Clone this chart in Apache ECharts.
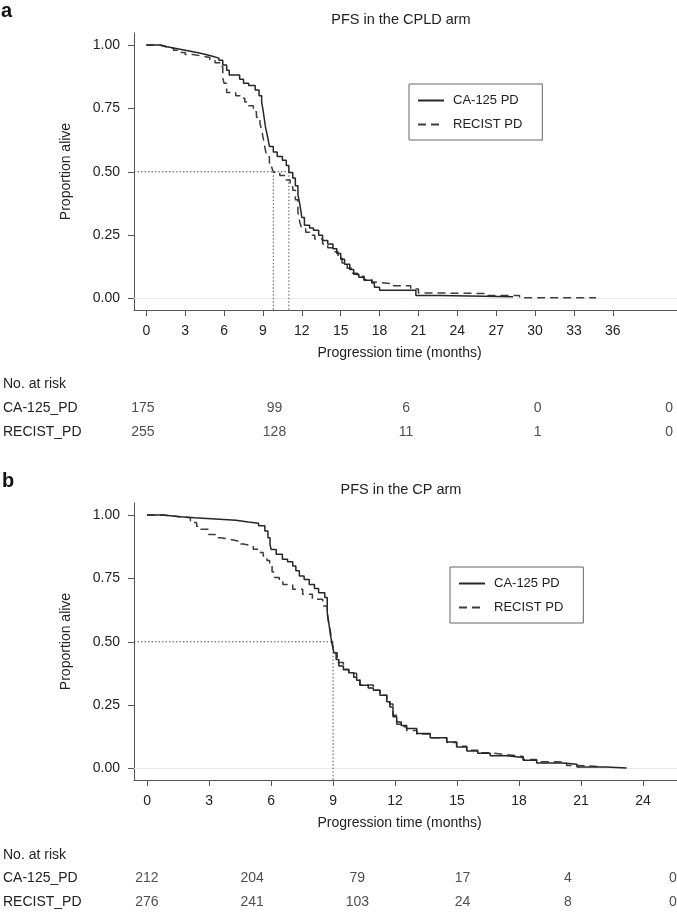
<!DOCTYPE html>
<html>
<head>
<meta charset="utf-8">
<script src="https://cdn.jsdelivr.net/npm/echarts@6.0.0/dist/echarts.min.js"></script>
<style>
  html, body { margin: 0; padding: 0; background: #fff; }
  #chart { width: 677px; height: 914px; }
</style>
</head>
<body>
<div id="chart"></div>
<script>
// Kaplan-Meier step points [months, proportion alive]
const cplaCa125 = [[0,1],[1.1,0.993],[1.6,0.987],[2.2,0.981],[2.8,0.975],[3.4,0.969],[4.0,0.962],[4.6,0.955],[5.1,0.948],[5.6,0.94],[5.9,0.921],[6.2,0.9],[6.4,0.881],[7.2,0.865],[7.5,0.849],[7.9,0.84],[8.4,0.822],[8.7,0.8],[8.9,0.775],[9.0,0.745],[9.1,0.71],[9.2,0.675],[9.35,0.64],[9.5,0.6],[9.8,0.578],[10.1,0.56],[10.5,0.545],[10.8,0.525],[11.0,0.497],[11.3,0.475],[11.5,0.445],[11.7,0.41],[11.85,0.37],[12.0,0.32],[12.2,0.289],[12.6,0.278],[12.9,0.269],[13.3,0.25],[13.6,0.229],[14.0,0.215],[14.4,0.196],[14.7,0.178],[15.0,0.155],[15.3,0.135],[15.7,0.115],[16.0,0.096],[16.4,0.084],[16.8,0.072],[17.4,0.061],[17.6,0.045],[18.0,0.033],[20.8,0.012],[22.6,0.007],[28.3,0.007]];
const cplaRecist = [[0,1],[1.0,0.993],[1.5,0.987],[2.1,0.979],[2.6,0.97],[3.0,0.962],[3.6,0.957],[4.2,0.95],[4.9,0.94],[5.3,0.93],[5.7,0.915],[5.9,0.87],[6.0,0.849],[6.2,0.812],[6.9,0.8],[7.3,0.79],[7.6,0.775],[7.9,0.76],[8.26,0.737],[8.5,0.715],[8.77,0.69],[8.9,0.665],[9.03,0.63],[9.15,0.595],[9.3,0.559],[9.5,0.535],[9.67,0.519],[9.8,0.498],[10.3,0.485],[10.8,0.467],[11.1,0.445],[11.3,0.427],[11.5,0.39],[11.7,0.34],[11.85,0.3],[12.0,0.275],[12.3,0.262],[12.6,0.25],[13.0,0.235],[13.6,0.215],[14.0,0.2],[14.4,0.185],[14.8,0.16],[15.1,0.14],[15.5,0.12],[15.9,0.1],[16.3,0.088],[16.8,0.075],[17.4,0.065],[17.6,0.059],[19.0,0.051],[20.4,0.038],[21.0,0.022],[22.3,0.02],[26.2,0.012],[28.8,0.003],[34.7,0.003]];
const cpCa125 = [[0,1],[0.75,0.993],[1.6,0.989],[2.3,0.983],[3.5,0.979],[4.3,0.972],[4.9,0.967],[5.4,0.957],[5.7,0.937],[5.85,0.91],[5.95,0.885],[6.0,0.864],[6.25,0.845],[6.55,0.825],[6.8,0.815],[7.05,0.799],[7.2,0.78],[7.37,0.759],[7.6,0.745],[7.85,0.726],[8.1,0.71],[8.3,0.693],[8.6,0.674],[8.72,0.615],[8.8,0.57],[8.88,0.523],[8.96,0.49],[9.04,0.457],[9.15,0.43],[9.28,0.404],[9.5,0.39],[9.76,0.378],[10.0,0.36],[10.14,0.348],[10.3,0.329],[10.7,0.318],[10.95,0.309],[11.27,0.289],[11.6,0.263],[11.75,0.243],[11.9,0.204],[12.08,0.184],[12.3,0.17],[12.56,0.158],[13.05,0.138],[13.7,0.122],[14.5,0.105],[14.98,0.085],[15.47,0.069],[16.0,0.06],[16.6,0.051],[17.4,0.044],[18.2,0.033],[18.85,0.022],[20.1,0.017],[20.8,0.006],[22.2,0.002],[23.2,0.002]];
const cpRecist = [[0,1],[0.75,0.993],[1.6,0.989],[2.1,0.97],[2.4,0.955],[2.58,0.944],[2.98,0.923],[3.3,0.91],[3.54,0.904],[4.02,0.897],[4.4,0.885],[4.66,0.878],[5.14,0.865],[5.4,0.852],[5.62,0.838],[5.8,0.82],[5.93,0.799],[6.05,0.775],[6.17,0.753],[6.4,0.738],[6.57,0.726],[7.05,0.707],[7.53,0.687],[8.0,0.668],[8.5,0.641],[8.72,0.608],[8.8,0.57],[8.88,0.536],[8.96,0.495],[9.04,0.457],[9.2,0.418],[9.5,0.392],[9.76,0.376],[10.14,0.35],[10.3,0.33],[10.95,0.309],[11.27,0.289],[11.6,0.275],[11.75,0.255],[11.9,0.21],[12.08,0.175],[12.3,0.165],[12.56,0.15],[13.05,0.136],[13.7,0.122],[14.5,0.103],[14.98,0.088],[15.47,0.072],[16.0,0.062],[16.6,0.055],[17.4,0.048],[18.2,0.036],[18.85,0.027],[19.6,0.025],[20.3,0.012],[20.8,0.008],[22.0,0.004]];

// median survival (months) marked with dotted guides
const cplaMedians = [9.8, 11.0];
const cpMedians = [9.0];

const cplaTicks = [0, 3, 6, 9, 12, 15, 18, 21, 24, 27, 30, 33, 36];
const cpTicks = [0, 3, 6, 9, 12, 15, 18, 21, 24];
const yTicks = [0, 0.25, 0.5, 0.75, 1];

// numbers at risk
const riskRows = ['No. at risk', 'CA-125_PD', 'RECIST_PD'];
const cplaRiskTimes = [0, 10, 20, 30, 40];
const cplaRiskCa125 = [175, 99, 6, 0, 0];
const cplaRiskRecist = [255, 128, 11, 1, 0];
const cpRiskTimes = [0, 5, 10, 15, 20, 25];
const cpRiskCa125 = [212, 204, 79, 17, 4, 0];
const cpRiskRecist = [276, 241, 103, 24, 8, 0];

const FONT = '"Liberation Sans", Arial, Helvetica, sans-serif';
const INK = '#222';
const AXIS = '#555';
const Y_MIN = -0.045, Y_MAX = 1.047;

const chart = echarts.init(document.getElementById('chart'), null, { renderer: 'canvas' });

function plotX(grid, min, max, ticks) {
  return {
    type: 'value', gridIndex: grid, min, max,
    name: 'Progression time (months)', nameLocation: 'middle', nameGap: 36,
    nameTextStyle: { fontFamily: FONT, fontSize: 14, color: INK, padding: [0, 12, 0, 0] },
    axisLine: { show: true, onZero: false, lineStyle: { color: AXIS, width: 1 } },
    axisTick: { show: true, length: 6, customValues: ticks, lineStyle: { color: AXIS } },
    axisLabel: { customValues: ticks, margin: 14, fontFamily: FONT, fontSize: 14, color: INK },
    splitLine: { show: false }
  };
}

function plotY(grid) {
  return {
    type: 'value', gridIndex: grid, min: Y_MIN, max: Y_MAX,
    name: 'Proportion alive', nameLocation: 'middle', nameGap: 61, nameRotate: 90,
    nameTextStyle: { fontFamily: FONT, fontSize: 14, color: INK },
    axisLine: { show: true, onZero: false, lineStyle: { color: AXIS, width: 1 } },
    axisTick: { show: true, length: 6, customValues: yTicks, lineStyle: { color: AXIS } },
    axisLabel: { customValues: yTicks, margin: 14, fontFamily: FONT, fontSize: 14, color: INK,
      formatter: v => v.toFixed(2) },
    splitLine: { show: false }
  };
}

function riskX(grid, min, max) {
  return { type: 'value', gridIndex: grid, min, max, show: false };
}

function riskY(grid) {
  return {
    type: 'category', gridIndex: grid, data: riskRows, inverse: true,
    axisLine: { show: false }, axisTick: { show: false }, splitLine: { show: false },
    axisLabel: { align: 'left', margin: 133, fontFamily: FONT, fontSize: 14, color: INK }
  };
}

function kmSeries(name, data, axis, dashed, withZero) {
  const ink = dashed ? '#3c3c3c' : '#262626';
  const s = {
    name, type: 'line', step: 'end', data, xAxisIndex: axis, yAxisIndex: axis,
    symbol: 'none', silent: true, color: ink,
    itemStyle: { color: ink },
    lineStyle: { color: ink, width: 1.5, type: dashed ? [8, 5] : 'solid' },
    z: dashed ? 4 : 5
  };
  if (withZero) {
    s.markLine = {
      silent: true, symbol: 'none', label: { show: false }, z: 1,
      lineStyle: { color: '#e8e8e8', width: 1, type: 'solid' },
      data: [{ yAxis: 0 }]
    };
  }
  return s;
}

function medianSeries(medians, axis, xMin) {
  const dotted = { color: AXIS, width: 1, type: [1.5, 2] };
  const far = Math.max(...medians);
  const out = [{
    type: 'line', xAxisIndex: axis, yAxisIndex: axis, symbol: 'none', silent: true, z: 3,
    lineStyle: dotted, data: [[xMin, 0.5], [far, 0.5]]
  }];
  medians.forEach(m => out.push({
    type: 'line', xAxisIndex: axis, yAxisIndex: axis, symbol: 'none', silent: true, z: 3,
    lineStyle: dotted, data: [[m, 0.5], [m, Y_MIN]]
  }));
  return out;
}

function riskSeries(times, counts, row, axis) {
  return {
    type: 'scatter', xAxisIndex: axis, yAxisIndex: axis, symbolSize: 1, silent: true,
    itemStyle: { color: 'rgba(0,0,0,0)' },
    data: times.map((t, i) => [t, row, counts[i]]),
    label: { show: true, position: 'inside', formatter: p => String(p.value[2]),
      fontFamily: FONT, fontSize: 14, color: INK }
  };
}

function legendAt(left, top) {
  return {
    left, top, orient: 'vertical', itemWidth: 26, itemHeight: 14, itemGap: 11,
    padding: [10, 20, 9, 8], borderColor: '#666', borderWidth: 1,
    selectedMode: false,
    itemStyle: { color: 'rgba(0,0,0,0)', borderWidth: 0 },
    data: ['CA-125 PD', 'RECIST PD'],
    textStyle: { fontFamily: FONT, fontSize: 13, color: INK, padding: [0, 0, 0, 4] }
  };
}

const titleStyle = { fontFamily: FONT, fontSize: 14.5, fontWeight: 'normal', color: INK };
const tagStyle = { fontFamily: FONT, fontSize: 20, fontWeight: 'bold', color: '#111' };

chart.setOption({
  animation: false,
  backgroundColor: '#fff',
  title: [
    { text: 'a', left: 1, top: 1, padding: 0, textStyle: tagStyle },
    { text: 'PFS in the CPLD arm', left: 401, top: 12, padding: 0, textAlign: 'center', textStyle: titleStyle },
    { text: 'b', left: 2, top: 471, padding: 0, textStyle: tagStyle },
    { text: 'PFS in the CP arm', left: 401, top: 482, padding: 0, textAlign: 'center', textStyle: titleStyle }
  ],
  legend: [legendAt(409, 84), legendAt(450, 567)],
  grid: [
    { left: 134, top: 33, width: 543, height: 277 },
    { left: 134, top: 503, width: 543, height: 277 },
    { left: 134, top: 372, width: 543, height: 72 },
    { left: 134, top: 843, width: 543, height: 72 }
  ],
  xAxis: [
    plotX(0, -0.95, 40.95, cplaTicks),
    plotX(1, -0.63, 25.64, cpTicks),
    riskX(2, -0.53, 40.6),
    riskX(3, -0.52, 25.19)
  ],
  yAxis: [plotY(0), plotY(1), riskY(2), riskY(3)],
  series: [
    kmSeries('CA-125 PD', cplaCa125, 0, false, true),
    kmSeries('RECIST PD', cplaRecist, 0, true, false),
    ...medianSeries(cplaMedians, 0, -0.95),
    kmSeries('CA-125 PD', cpCa125, 1, false, true),
    kmSeries('RECIST PD', cpRecist, 1, true, false),
    ...medianSeries(cpMedians, 1, -0.63),
    riskSeries(cplaRiskTimes, cplaRiskCa125, 'CA-125_PD', 2),
    riskSeries(cplaRiskTimes, cplaRiskRecist, 'RECIST_PD', 2),
    riskSeries(cpRiskTimes, cpRiskCa125, 'CA-125_PD', 3),
    riskSeries(cpRiskTimes, cpRiskRecist, 'RECIST_PD', 3)
  ]
});
</script>
</body>
</html>
